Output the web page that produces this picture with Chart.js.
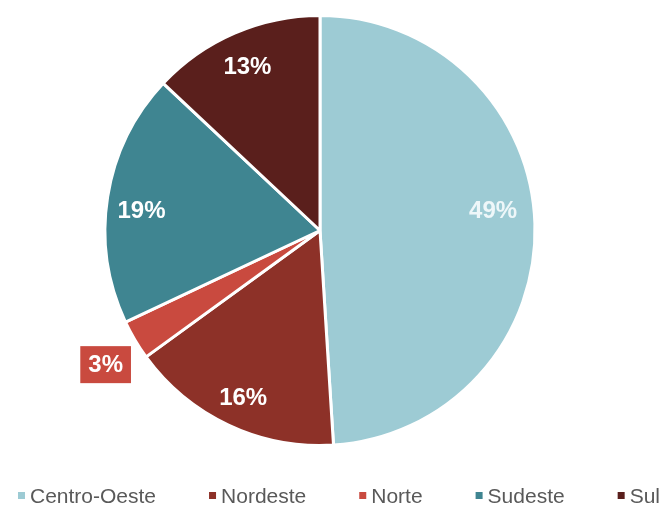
<!DOCTYPE html>
<html>
<head>
<meta charset="utf-8">
<script src="https://cdn.jsdelivr.net/npm/chart.js@4"></script>
<style>
  html, body { margin: 0; padding: 0; background: #fff; }
  #wrap { width: 664px; height: 506px; position: relative; }
</style>
</head>
<body>
<div id="wrap"><canvas id="pieChart" width="664" height="506"></canvas></div>
<script>
// dados do gráfico
const regioes = ['Centro-Oeste', 'Nordeste', 'Norte', 'Sudeste', 'Sul'];
const percentuais = [49, 16, 3, 19, 13];
const cores = ['#9dcbd4', '#8d3128', '#c94a3f', '#3f8591', '#5a1f1c'];

// rótulos de dados (sem chartjs-plugin-datalabels, desenhados à mão)
const rotulosPlugin = {
    id: 'rotulos',
    afterDatasetsDraw(chart, args, opts) {
        const ctx = chart.ctx;
        const meta = chart.getDatasetMeta(0);
        const ajX = opts.ajusteX || [];
        const ajY = opts.ajusteY || [];
        ctx.save();
        ctx.font = 'bold 24px "Liberation Sans", Arial, sans-serif';
        ctx.textAlign = 'center';
        ctx.textBaseline = 'middle';
        meta.data.forEach((arc, i) => {
            const p = arc.getProps(['x', 'y', 'startAngle', 'endAngle', 'outerRadius'], true);
            const meio = (p.startAngle + p.endAngle) / 2;
            const texto = percentuais[i] + '%';
            const fora = percentuais[i] < 5;
            const r = p.outerRadius * (fora ? 1.18 : (percentuais[i] > 40 ? 0.81 : 0.85));
            const x = p.x + Math.cos(meio) * r + (ajX[i] || 0);
            const y = p.y + Math.sin(meio) * r + (ajY[i] || 0);
            if (fora) {
                // fatia pequena: rótulo fora, com caixa colorida
                const w = ctx.measureText(texto).width + 16;
                const h = 37;
                ctx.fillStyle = cores[i];
                ctx.fillRect(x - w / 2, y - h / 2, w, h);
                ctx.fillStyle = '#ffffff';
                ctx.fillText(texto, x, y + 1);
            } else {
                ctx.fillStyle = i === 0 ? '#eef7f9' : '#ffffff';
                ctx.fillText(texto, x, y);
            }
        });
        ctx.restore();
    }
};

// legenda embaixo, no estilo do Excel
const legendaPlugin = {
    id: 'legendaExcel',
    afterDraw(chart) {
        const ctx = chart.ctx;
        ctx.save();
        ctx.font = '21px "Liberation Sans", Arial, sans-serif';
        ctx.textBaseline = 'alphabetic';
        const caixa = 7, folga = 5, espaco = 53;
        const larguras = regioes.map(r => caixa + folga + ctx.measureText(r).width);
        const total = larguras.reduce((a, b) => a + b, 0) + espaco * (regioes.length - 1);
        let x = 339 - total / 2;
        const yBase = 503;
        regioes.forEach((r, i) => {
            ctx.fillStyle = cores[i];
            ctx.fillRect(x, yBase - 11, caixa, caixa);
            ctx.fillStyle = '#595959';
            ctx.fillText(r, x + caixa + folga, yBase);
            x += larguras[i] + espaco;
        });
        ctx.restore();
    }
};

const ctx = document.getElementById('pieChart').getContext('2d');
const grafico = new Chart(ctx, {
    type: 'pie',
    data: {
        labels: regioes,
        datasets: [{
            data: percentuais,
            backgroundColor: cores,
            borderColor: '#ffffff',
            borderWidth: 3,
        }],
    },
    options: {
        responsive: false,
        animation: false,
        layout: {
            padding: { top: 14, bottom: 59, left: 0, right: 24 },
        },
        plugins: {
            legend: { display: false },
            tooltip: { enabled: false },
            // pequenos deslocamentos dos rótulos, como o Excel posiciona
            rotulos: {
                ajusteX: [-1, 1, 4, 2, 0],
                ajusteY: [-14, 3, 5, 9, 5],
            },
        },
    },
    plugins: [rotulosPlugin, legendaPlugin],
});
</script>
</body>
</html>
